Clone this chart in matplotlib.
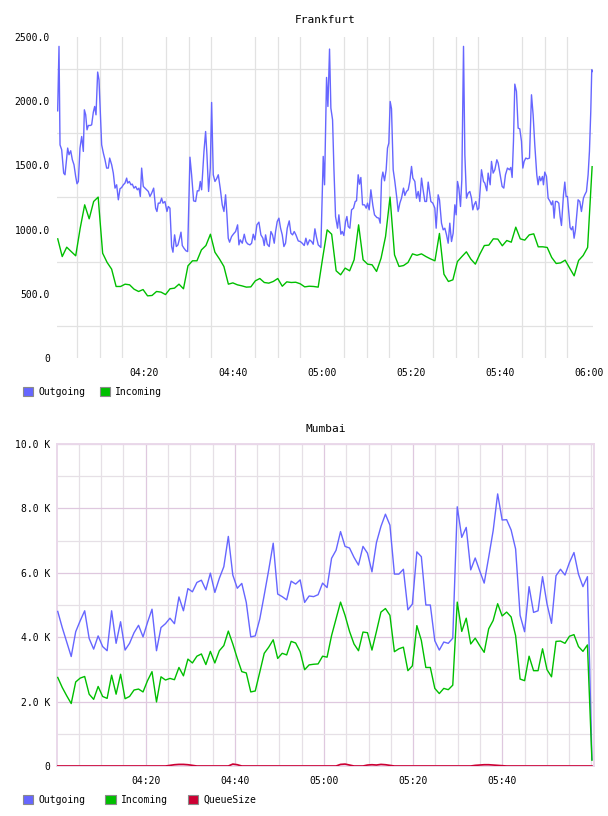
import numpy as np
import matplotlib
matplotlib.use("Agg")
import matplotlib.pyplot as plt
from matplotlib.patches import Patch
from matplotlib.ticker import FixedLocator, FixedFormatter

# ---------------- data ----------------
titles = ["Frankfurt", "Mumbai"]
top_xticks = ["04:20", "04:40", "05:00", "05:20", "05:40", "06:00"]
bot_xticks = ["04:20", "04:40", "05:00", "05:20", "05:40"]
top_yticks = [0, 500, 1000, 1500, 2000, 2500]
bot_yticks = [0, 2, 4, 6, 8, 10]          # thousands
series_top = ["Outgoing", "Incoming"]
series_bot = ["Outgoing", "Incoming", "QueueSize"]

# Frankfurt outgoing: minutes after 04:00 and values
fra_out_min = [
    0.55, 0.85, 1.08, 1.45, 1.90, 2.20, 2.80, 3.10, 3.48, 3.85, 4.22, 4.60, 4.90, 5.20, 5.57, 5.95,
    6.32, 6.55, 6.85, 7.15, 7.45, 7.89, 8.19, 8.57, 8.87, 9.17, 9.54, 9.84, 10.44, 10.82, 11.19,
    11.56, 11.94, 12.24, 12.69, 13.06, 13.44, 13.81, 14.19, 14.56, 14.94, 15.31, 15.68, 16.06,
    16.28, 16.66, 17.03, 17.33, 17.71, 18.08, 18.46, 18.83, 19.13, 19.43, 19.80, 20.18, 20.55,
    20.93, 21.30, 21.68, 22.13, 22.57, 22.87, 23.17, 23.55, 23.92, 24.22, 24.67, 25.12, 25.42,
    25.79, 26.17, 26.47, 26.84, 27.22, 27.59, 27.97, 28.27, 28.57, 28.94, 29.39, 29.77, 30.29,
    30.66, 31.11, 31.56, 31.94, 32.31, 32.61, 32.91, 33.44, 33.81, 34.11, 34.48, 34.86, 35.16,
    35.53, 35.91, 36.28, 36.66, 37.11, 37.55, 37.93, 38.30, 38.60, 38.90, 39.20, 39.65, 40.10,
    40.55, 41.00, 41.30,
    41.60, 42.05, 42.50, 42.87, 43.25, 43.77, 44.15, 44.52, 44.89, 45.34, 45.79, 46.24, 46.69,
    46.99, 47.29, 47.67, 48.11, 48.49, 48.86, 49.24, 49.54, 49.91, 50.29, 50.66, 51.04, 51.41,
    51.78, 52.16, 52.61, 52.98, 53.36, 53.73, 54.11, 54.63, 55.08, 55.53, 55.98, 56.35, 56.73,
    57.18, 57.63, 58.00, 58.38, 58.75, 59.13, 59.50, 59.72, 60.25, 60.55, 61.00, 61.30, 61.67,
    61.97, 62.35, 62.65, 63.02, 63.47, 63.77, 64.22, 64.52, 64.89, 65.27, 65.57, 65.87, 66.24,
    66.62, 67.06, 67.44, 67.74, 68.11, 68.41, 68.71, 69.09, 69.54, 69.91, 70.21, 70.58, 70.96,
    71.41, 71.78, 72.31, 72.76, 73.06, 73.36, 73.66, 74.03, 74.40, 74.70, 75.00, 75.30, 75.60,
    75.98, 76.35, 76.80, 77.10, 77.48, 77.85, 78.30, 78.60, 78.97, 79.35, 79.72, 80.10, 80.40,
    80.85, 81.22,
    81.60, 81.97, 82.35, 82.65, 83.10, 83.47, 83.85, 84.15, 84.45, 84.89, 85.34, 85.64, 86.09,
    86.39, 86.84, 87.22, 87.59, 87.97, 88.34, 88.71, 89.09, 89.46, 89.84, 90.14, 90.44, 90.74,
    91.11, 91.41, 91.79, 92.09, 92.46, 92.83, 93.21, 93.58, 93.88, 94.18, 94.56, 94.93, 95.23,
    95.53, 95.83, 96.28, 96.58, 97.03, 97.33, 97.78, 98.08, 98.45, 98.83, 99.28, 99.58, 100.02,
    100.47, 100.85, 101.22, 101.67, 102.12, 102.42, 102.72, 103.02, 103.32, 103.69, 104.07,
    104.44, 104.82, 105.12, 105.42, 105.79, 106.17, 106.62, 107.07, 107.44, 107.81, 108.26,
    108.56, 108.86, 109.16, 109.54, 109.76, 110.06, 110.44, 110.81, 111.26, 111.56, 111.86,
    112.16, 112.46, 112.83, 113.21, 113.51, 113.81, 114.26, 114.56, 114.85, 115.15, 115.45,
    115.75, 116.05, 116.35, 116.65, 116.95, 117.25, 117.55, 117.93, 118.30, 118.75, 119.05,
    119.43, 119.80, 120.10, 120.40, 120.62, 120.85,
]
fra_out = [
    1925, 2427, 1660, 1622, 1440, 1427, 1635, 1583, 1614, 1544, 1505, 1414, 1357, 1375, 1635, 1725,
    1609, 1933, 1894, 1777, 1811, 1811, 1816, 1915, 1959, 1894, 2227, 2167, 1660, 1596, 1544,
    1479, 1479, 1557, 1505, 1440, 1323, 1349, 1232, 1318, 1328, 1349, 1362, 1401,
    1362, 1375, 1349, 1354, 1323, 1336, 1310, 1323, 1258, 1479, 1336, 1323, 1310,
    1297, 1258, 1284, 1323, 1167, 1141, 1206, 1206, 1245, 1206, 1219, 1141, 1180,
    1167, 868, 824, 959, 868, 881, 933, 980, 876, 855, 835, 829, 1564,
    1427, 1224, 1219, 1302, 1302, 1375, 1310, 1609, 1764, 1583, 1297, 1479, 1990,
    1427, 1375, 1396, 1427, 1318, 1193, 1141, 1271, 1115, 933, 902, 946, 967,
    985, 1037, 881,
    920, 894, 964, 907, 889, 881, 894, 964, 920, 1037, 1058, 959, 933,
    876, 959, 886, 868, 985, 959, 894, 985, 1063, 1089, 1011, 959, 868,
    894, 1011, 1068, 972, 959, 985, 959, 912, 907, 894, 876, 933, 881,
    920, 907, 886, 1006, 938, 881, 868, 861, 1570, 1349, 2185, 1959, 2406,
    1946, 1855, 1479, 1102, 1011, 1115, 964, 985, 954, 1063, 1102, 1024, 1011,
    1154, 1167, 1219, 1224, 1427, 1354, 1406, 1193, 1193, 1167, 1206, 1154, 1310,
    1188, 1115, 1094, 1089, 1050, 1388, 1448, 1380, 1466, 1635, 1674, 1998, 1941,
    1466, 1375, 1245, 1141, 1206, 1245, 1323, 1266, 1297, 1310, 1375, 1492, 1401,
    1375, 1245,
    1297, 1219, 1401, 1323, 1219, 1219, 1370, 1297, 1219, 1206, 1167, 1011, 1271,
    1232, 1050, 998, 1011, 959, 894, 1050, 907, 972, 1193, 1115, 1375, 1323,
    1180, 1388, 2427, 1583, 1245, 1284, 1297, 1245, 1154, 1193, 1219, 1154, 1167,
    1310, 1466, 1375, 1362, 1302, 1440, 1349, 1531, 1440, 1466, 1544, 1518, 1427,
    1336, 1323, 1427, 1479, 1466, 1484, 1406, 1687, 2133, 2076, 1790,
    1785, 1687, 1479, 1531, 1557, 1551, 1557, 2050, 1894, 1661, 1427,
    1349, 1414, 1380, 1414, 1349, 1448, 1414, 1245, 1219, 1193, 1224,
    1089, 1219, 1219, 1206, 1102, 1032, 1271, 1370, 1258, 1258, 1141,
    1016, 998, 1024, 933, 998, 1115, 1232, 1219, 1141, 1245, 1271,
    1297, 1427, 1609, 1920, 2245, 2232,
]

# Frankfurt incoming: one sample per minute
fra_in_first, fra_in_last = "04:00:34", "06:00:42"
fra_in = [
    928, 790, 863, 829, 796, 1011, 1193, 1084, 1219, 1253, 816, 744, 692, 557, 557, 575, 570,
    536, 518, 533, 484, 487, 518, 513, 494, 539, 544, 575, 539, 718, 757, 757, 842, 876, 964,
    824, 772, 713, 575, 585, 570,
    562, 552, 554, 601, 619, 588, 583, 596, 619, 559, 593, 588, 590, 578, 554, 559, 557, 552,
    780, 998, 964, 679, 648, 700, 679, 765, 1037, 765, 731, 726, 674, 777, 946, 1253, 803, 713,
    720, 744, 811, 800,
    811, 790, 772, 757, 970, 653, 596, 609, 751, 790, 827, 770, 731, 809, 876, 879, 928, 926,
    874, 915, 902, 1019, 928, 918, 959, 967, 866, 866, 861, 783, 736, 741, 762, 700, 640, 760,
    798, 861, 1490,
]

# Mumbai: one sample per minute, values in thousands
mum_first, mum_last = "04:00:16", "06:00:07"
mum_out = [
    4.80, 4.30, 3.85, 3.40, 4.17, 4.51, 4.82, 3.96, 3.63, 4.04,
    3.71, 3.58, 4.82, 3.81, 4.48, 3.60, 3.81, 4.14, 4.37, 4.01,
    4.46, 4.87, 3.58, 4.30, 4.42, 4.59, 4.42, 5.25, 4.82, 5.51,
    5.41, 5.70, 5.77, 5.47, 5.99, 5.39, 5.83, 6.19, 7.13, 5.93,
    5.52, 5.67, 5.08, 4.01, 4.04, 4.56, 5.31, 6.09, 6.92, 5.34,
    5.26, 5.16, 5.74, 5.65, 5.78, 5.08, 5.28, 5.26, 5.32, 5.68,
    5.54, 6.45, 6.70, 7.28, 6.82, 6.77, 6.48, 6.24, 6.82, 6.61,
    6.03, 6.94, 7.44, 7.82, 7.48, 5.96, 5.96, 6.11, 4.85, 5.03,
    6.65, 6.50, 5.00, 5.00, 3.89, 3.60, 3.85, 3.81, 3.97, 8.05,
    7.10, 7.41, 6.09, 6.46, 6.06, 5.68, 6.48, 7.31, 8.45, 7.64,
    7.65, 7.33, 6.74, 4.68, 4.17, 5.57, 4.77, 4.82, 5.88, 5.03,
    4.43, 5.91, 6.11, 5.93, 6.32, 6.63, 5.96, 5.57, 5.88, 0.20,
]
mum_in = [
    2.75, 2.44, 2.18, 1.94, 2.61, 2.73, 2.78, 2.23, 2.07, 2.47,
    2.16, 2.10, 2.82, 2.23, 2.85, 2.09, 2.16, 2.36, 2.39, 2.30,
    2.65, 2.93, 1.99, 2.77, 2.67, 2.72, 2.68, 3.06, 2.80, 3.32,
    3.20, 3.41, 3.48, 3.15, 3.56, 3.20, 3.58, 3.74, 4.19, 3.79,
    3.34, 2.93, 2.89, 2.30, 2.33, 2.91, 3.50, 3.69, 3.92, 3.34,
    3.50, 3.45, 3.87, 3.82, 3.55, 2.99, 3.14, 3.16, 3.17, 3.41,
    3.38, 4.05, 4.57, 5.09, 4.68, 4.18, 3.79, 3.58, 4.16, 4.14,
    3.60, 4.18, 4.78, 4.89, 4.68, 3.55, 3.64, 3.69, 2.96, 3.11,
    4.36, 3.90, 3.06, 3.06, 2.41, 2.25, 2.41, 2.37, 2.51, 5.09,
    4.18, 4.59, 3.79, 3.97, 3.74, 3.53, 4.26, 4.52, 5.04, 4.66,
    4.78, 4.63, 4.05, 2.70, 2.65, 3.41, 2.96, 2.96, 3.64, 2.99,
    2.77, 3.87, 3.88, 3.81, 4.03, 4.08, 3.71, 3.56, 3.76, 0.18,
]
mum_queue = [
    0, 0, 0, 0, 0, 0, 0, 0, 0, 0,
    0, 0, 0, 0, 0, 0, 0, 0, 0, 0,
    0, 0, 0, 0, 0, 0.02, 0.04, 0.05, 0.05, 0.04,
    0.02, 0, 0, 0, 0, 0, 0, 0, 0, 0.06,
    0.04, 0, 0, 0, 0, 0, 0, 0, 0, 0,
    0, 0, 0, 0, 0, 0, 0, 0, 0, 0,
    0, 0, 0, 0.05, 0.06, 0.03, 0, 0, 0, 0.03,
    0.04, 0.03, 0.05, 0.04, 0.02, 0, 0, 0, 0, 0,
    0, 0, 0, 0, 0, 0, 0, 0, 0, 0,
    0, 0, 0, 0.02, 0.03, 0.04, 0.04, 0.03, 0.02, 0.01,
    0, 0, 0, 0, 0, 0, 0, 0, 0, 0,
    0, 0, 0, 0, 0, 0, 0, 0, 0, 0,
]

top_xrange = ("04:00:24", "06:00:54")
bot_xrange = ("04:00:06", "06:00:35")

C_OUT = "#6666ff"
C_IN = "#00bf00"
C_Q = "#cc0033"


def minutes(s):
    p = [int(v) for v in s.split(":")]
    sec = p[2] if len(p) > 2 else 0
    return (p[0] - 4) * 60 + p[1] + sec / 60.0


# ---------------- figure ----------------
plt.rcParams["font.family"] = ["DejaVu Sans Mono"]
plt.rcParams["font.size"] = 7

W, H = 608, 816
fig = plt.figure(figsize=(W / 100, H / 100), dpi=100)
ax1 = fig.add_axes([57 / W, 1 - 358 / H, 536 / W, 321 / H])
ax2 = fig.add_axes([57 / W, 1 - 766 / H, 537 / W, 322 / H])

# ---- Frankfurt ----
t_in = np.linspace(minutes(fra_in_first), minutes(fra_in_last), len(fra_in))
ax1.plot(fra_out_min, fra_out, color=C_OUT, lw=1.0, zorder=3)
ax1.plot(t_in, fra_in, color=C_IN, lw=1.0, zorder=4)
ax1.set_xlim(minutes(top_xrange[0]), minutes(top_xrange[1]))
ax1.set_ylim(top_yticks[0], top_yticks[-1])
for s in ax1.spines.values():
    s.set_visible(False)

ax1.yaxis.set_major_locator(FixedLocator(top_yticks))
ax1.yaxis.set_major_formatter(
    FixedFormatter(["0" if v == 0 else f"{v:.1f}" for v in top_yticks]))
ax1.yaxis.set_minor_locator(FixedLocator(
    [(a + b) / 2 for a, b in zip(top_yticks[:-1], top_yticks[1:])]))
ax1.xaxis.set_major_locator(FixedLocator([minutes(s) for s in top_xticks]))
ax1.xaxis.set_major_formatter(FixedFormatter(top_xticks))
ax1.xaxis.set_minor_locator(FixedLocator(np.arange(5, 121, 5)))
ax1.tick_params(which="both", length=0)
ax1.tick_params(axis="y", pad=5)
ax1.tick_params(axis="x", pad=7)
ax1.grid(False, which="major")
ax1.grid(True, which="minor", color="#e2e2e2", lw=0.9)
ax1.set_axisbelow(True)
ax1.set_title(titles[0], fontsize=8, pad=10)

fig.legend(
    handles=[Patch(facecolor=C_OUT, edgecolor="#8a8a8a", lw=0.8),
             Patch(facecolor=C_IN, edgecolor="#8a8a8a", lw=0.8)],
    labels=series_top, loc="center left", bbox_to_anchor=(23 / W, 1 - 392 / H),
    ncol=2, frameon=False, borderpad=0, borderaxespad=0, handlelength=1.05,
    handleheight=1.05, handletextpad=0.5, columnspacing=1.55, fontsize=7)

# ---- Mumbai ----
t_m = np.linspace(minutes(mum_first), minutes(mum_last), len(mum_out))
ax2.plot(t_m, mum_out, color=C_OUT, lw=1.0, zorder=3)
ax2.plot(t_m, mum_in, color=C_IN, lw=1.0, zorder=4)
ax2.plot(t_m, mum_queue, color=C_Q, lw=1.2, zorder=5)
ax2.set_xlim(minutes(bot_xrange[0]), minutes(bot_xrange[1]))
ax2.set_ylim(bot_yticks[0], bot_yticks[-1])
for s in ax2.spines.values():
    s.set_color("#ead8ea")
    s.set_linewidth(1.4)

ax2.yaxis.set_major_locator(FixedLocator(bot_yticks))
ax2.yaxis.set_major_formatter(
    FixedFormatter(["0" if v == 0 else f"{v:.1f} K" for v in bot_yticks]))
ax2.yaxis.set_minor_locator(FixedLocator(
    [(a + b) / 2 for a, b in zip(bot_yticks[:-1], bot_yticks[1:])]))
ax2.xaxis.set_major_locator(FixedLocator([minutes(s) for s in bot_xticks]))
ax2.xaxis.set_major_formatter(FixedFormatter(bot_xticks))
ax2.xaxis.set_minor_locator(FixedLocator(np.arange(5, 121, 5)))
ax2.tick_params(which="both", length=0)
ax2.tick_params(axis="y", pad=5)
ax2.tick_params(axis="x", pad=7)
ax2.grid(True, which="major", color="#dfc8df", lw=0.9)
ax2.grid(True, which="minor", color="#e6e0e6", lw=0.9)
ax2.set_axisbelow(True)
ax2.set_title(titles[1], fontsize=8, pad=9)

fig.legend(
    handles=[Patch(facecolor=C_OUT, edgecolor="#8a8a8a", lw=0.8),
             Patch(facecolor=C_IN, edgecolor="#8a8a8a", lw=0.8),
             Patch(facecolor=C_Q, edgecolor="#8a8a8a", lw=0.8)],
    labels=series_bot, loc="center left", bbox_to_anchor=(23 / W, 1 - 800 / H),
    ncol=3, frameon=False, borderpad=0, borderaxespad=0, handlelength=1.05,
    handleheight=1.05, handletextpad=0.5, columnspacing=2.1, fontsize=7)

fig.savefig("out.png", dpi=100)
